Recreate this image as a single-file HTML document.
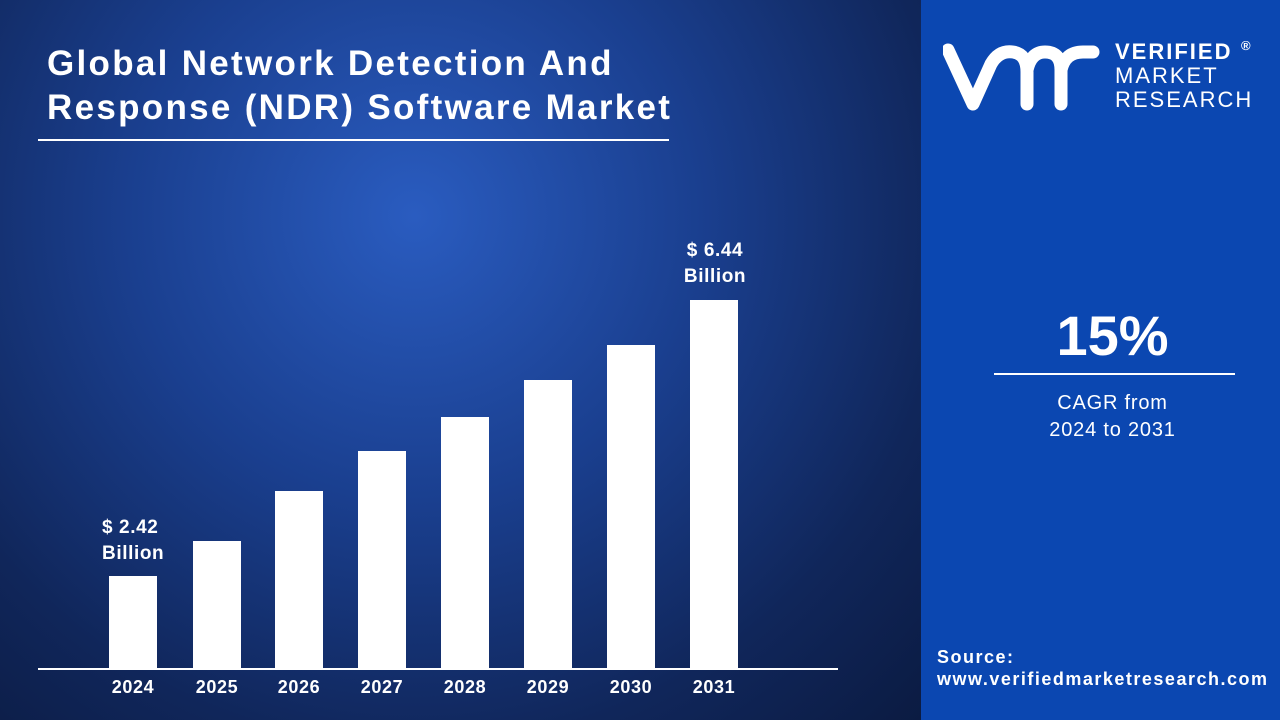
<!DOCTYPE html>
<html><head><style>
body{margin:0;width:1280px;height:720px;overflow:hidden;font-family:"Liberation Sans",sans-serif;}
#l{position:absolute;left:0;top:0;width:921px;height:720px;background:radial-gradient(ellipse at 45% 30%,#2a5cc0 0%,#1a3f8f 40%,#10265a 75%,#0b1b42 100%);}
#r{position:absolute;left:921px;top:0;width:359px;height:720px;background:#0b47b1;}
.t{position:absolute;color:#fff;font-weight:bold;}
.bar{position:absolute;background:#fff;width:48px;bottom:51px;}
.yr{position:absolute;top:677px;width:60px;text-align:center;color:#fff;font-weight:bold;font-size:18px;letter-spacing:0.6px;}
</style></head><body>
<div id="l">
<div class="t" style="left:47px;top:42px;font-size:35px;line-height:44px;letter-spacing:2.3px;white-space:nowrap;font-weight:600;">Global Network Detection And<br>Response (NDR) Software Market</div>
<div style="position:absolute;left:38px;top:139px;width:631px;height:2px;background:#fff"></div>
<div class="bar" style="left:109px;height:93px"></div>
<div class="bar" style="left:193px;height:128px"></div>
<div class="bar" style="left:275px;height:178px"></div>
<div class="bar" style="left:358px;height:218px"></div>
<div class="bar" style="left:441px;height:252px"></div>
<div class="bar" style="left:524px;height:289px"></div>
<div class="bar" style="left:607px;height:324px"></div>
<div class="bar" style="left:690px;height:369px"></div>
<div style="position:absolute;left:38px;top:668px;width:800px;height:2px;background:#fff"></div>
<div class="yr" style="left:103px">2024</div><div class="yr" style="left:187px">2025</div>
<div class="yr" style="left:269px">2026</div><div class="yr" style="left:352px">2027</div>
<div class="yr" style="left:435px">2028</div><div class="yr" style="left:518px">2029</div>
<div class="yr" style="left:601px">2030</div><div class="yr" style="left:684px">2031</div>
<div class="t" style="left:102px;top:515px;font-size:19px;line-height:26px;letter-spacing:0.6px;">$ 2.42<br>Billion</div>
<div class="t" style="left:674px;top:238px;font-size:19px;line-height:26px;text-align:center;width:82px;letter-spacing:0.6px;">$ 6.44<br>Billion</div>
</div>
<div id="r">
<svg style="position:absolute;left:22px;top:42px" width="170" height="70" viewBox="0 0 170 70"><path d="M5 8 L30 62 L48 22 Q56 8 70 10 Q84 12 84 30 L84 62 M84 28 Q88 10 102 10 Q118 10 118 28 L118 62 M118 28 Q122 10 140 10 L150 10" stroke="#fff" stroke-width="13" fill="none" stroke-linecap="round" stroke-linejoin="round"/></svg>
<div class="t" style="left:194px;top:40px;font-size:22px;line-height:24px;letter-spacing:2px;">VERIFIED<br><span style="font-weight:normal">MARKET<br>RESEARCH</span></div>
<div class="t" style="left:320px;top:38px;font-size:13px;">®</div>
<div class="t" style="left:0;width:383px;top:303px;font-size:56px;text-align:center;">15%</div>
<div style="position:absolute;left:73px;top:373px;width:241px;height:2px;background:#fff"></div>
<div class="t" style="left:0;width:383px;top:390px;font-size:20px;line-height:27px;text-align:center;font-weight:normal;letter-spacing:0.8px;">CAGR from<br>2024 to 2031</div>
<div class="t" style="left:16px;top:646px;font-size:18px;line-height:22px;letter-spacing:1.5px;white-space:nowrap;">Source:<br>www.verifiedmarketresearch.com</div>
</div>
</body></html>
